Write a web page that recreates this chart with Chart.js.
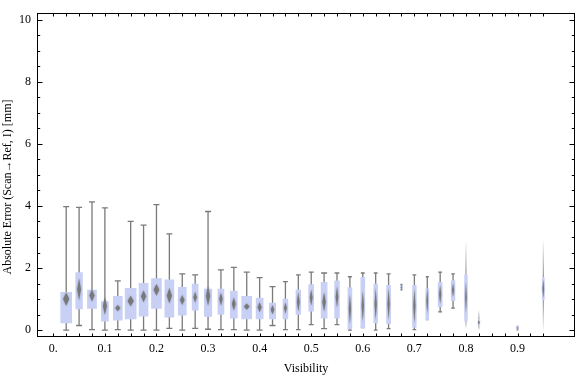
<!DOCTYPE html>
<html><head><meta charset="utf-8">
<script src="https://cdn.jsdelivr.net/npm/chart.js@4.4.1/dist/chart.umd.min.js"></script>
<style>html,body{margin:0;padding:0;background:#fff}canvas{display:block}</style>
</head><body>
<canvas id="c" width="576" height="377"></canvas>
<script>
const visibility   = [0.025,0.05,0.075,0.1,0.125,0.15,0.175,0.2,0.225,0.25,0.275,0.3,0.325,0.35,0.375,0.4,0.425,0.45,0.475,0.5,0.525,0.55,0.575,0.6,0.625,0.65,0.675,0.7,0.725,0.75,0.775,0.8,0.825,0.9,0.95];
const whiskerLow   = [0,0.15,0.02,0,0.02,0,0,0,0.06,0,0.06,0.03,0.02,0.02,0,0,0.15,0.02,0.02,0.18,0.05,0.18,0,0.08,0,0.05,1.3,0.02,0.34,0.59,0.71,0.05,0,0.01,0];
const quartile1    = [0.23,0.68,0.70,0.29,0.32,0.36,0.45,0.70,0.42,0.48,0.64,0.44,0.51,0.39,0.36,0.36,0.36,0.36,0.51,0.61,0.39,0.39,0.04,0.08,0.23,0.20,1.35,0.10,0.34,0.76,0.95,0.29,0.15,0.03,0.97];
const medians      = [1.00,1.31,1.12,0.78,0.71,0.94,1.09,1.30,1.11,0.97,1.06,1.10,1.00,0.84,0.76,0.74,0.66,0.71,0.91,1.05,0.91,1.07,0.68,0.78,0.84,0.84,1.38,0.78,0.94,1.15,1.29,1.05,0.25,0.07,1.33];
const quartile3    = [1.22,1.85,1.29,0.92,1.09,1.35,1.51,1.66,1.62,1.38,1.48,1.32,1.32,1.26,1.09,1.03,0.87,1.00,1.29,1.47,1.54,1.59,1.37,1.70,1.48,1.44,1.42,1.44,1.33,1.54,1.60,1.79,0.34,0.12,1.69];
const whiskerHigh  = [3.98,3.95,4.13,3.94,1.59,3.50,3.38,4.04,3.10,1.81,1.78,3.82,1.94,2.02,1.87,1.69,1.40,1.56,1.78,1.87,1.84,1.84,1.72,1.84,1.84,1.81,1.47,1.78,1.72,1.87,1.81,2.83,0.63,0.12,2.88];
const medianSpread = [0.21,0.35,0.20,0.29,0.10,0.17,0.19,0.19,0.25,0.16,0.18,0.31,0.21,0.21,0.10,0.16,0.15,0.18,0.31,0.26,0.31,0.34,0.47,0.50,0.52,0.50,0.03,0.55,0.40,0.30,0.22,0.50,0.08,0.03,0.30];
const sampleShare  = [1.0,0.61,0.82,0.64,0.82,1.0,0.82,0.91,0.82,0.73,0.55,0.68,0.55,0.64,0.91,0.64,0.57,0.45,0.43,0.45,0.55,0.43,0.36,0.36,0.34,0.36,0.18,0.34,0.27,0.36,0.34,0.25,0.09,0.18,0.18];
const sparseCategories = [0.8, 0.825, 0.95];
const xTickLabels = ['0.','0.1','0.2','0.3','0.4','0.5','0.6','0.7','0.8','0.9'];
const yTickLabels = ['0','2','4','6','8','10'];

const MAXW = 11;
const BOX = 'rgb(200,208,245)';
const WHISK = '#7a7a7a';
const FONT = '"Liberation Serif", "Times New Roman", serif';

const datasets = visibility.map((v, i) => ({
  type: 'bar',
  label: String(v),
  data: [{x: v, y: [quartile1[i], quartile3[i]]}],
  barThickness: sampleShare[i] * MAXW,
  backgroundColor: BOX,
  borderWidth: 0,
  grouped: false
}));

const decor = {
  id: 'decor',
  beforeDatasetsDraw(chart) {
    const ctx = chart.ctx, xs = chart.scales.x, ys = chart.scales.y;
    ctx.save();
    visibility.forEach((v, i) => {
      const x = xs.getPixelForValue(v);
      const w = sampleShare[i] * MAXW;
      const cap = Math.min(6, Math.max(2, w));
      const yl = ys.getPixelForValue(whiskerLow[i]);
      const yh = ys.getPixelForValue(whiskerHigh[i]);
      const y1 = ys.getPixelForValue(quartile1[i]);
      const y3 = ys.getPixelForValue(quartile3[i]);
      if (sparseCategories.includes(v)) {
        ctx.lineWidth = 1.2;
        let g = ctx.createLinearGradient(0, yh, 0, y3);
        g.addColorStop(0, 'rgba(122,122,122,0.05)');
        g.addColorStop(1, 'rgba(122,122,122,0.8)');
        ctx.strokeStyle = g;
        ctx.beginPath(); ctx.moveTo(x, yh); ctx.lineTo(x, y3); ctx.stroke();
        g = ctx.createLinearGradient(0, y1, 0, yl);
        g.addColorStop(0, 'rgba(122,122,122,0.8)');
        g.addColorStop(1, 'rgba(122,122,122,0.05)');
        ctx.strokeStyle = g;
        ctx.beginPath(); ctx.moveTo(x, y1); ctx.lineTo(x, yl); ctx.stroke();
      } else {
        ctx.strokeStyle = WHISK;
        ctx.lineWidth = 1.3;
        ctx.beginPath();
        ctx.moveTo(x, yh); ctx.lineTo(x, yl);
        ctx.moveTo(x - cap / 2, yh); ctx.lineTo(x + cap / 2, yh);
        ctx.moveTo(x - cap / 2, yl); ctx.lineTo(x + cap / 2, yl);
        ctx.stroke();
      }
    });
    ctx.restore();
  },
  afterDatasetsDraw(chart) {
    const ctx = chart.ctx, xs = chart.scales.x, ys = chart.scales.y;
    ctx.save();
    ctx.fillStyle = 'rgba(118,118,118,0.95)';
    ctx.shadowColor = 'rgba(118,118,118,0.7)';
    ctx.shadowBlur = 2;
    visibility.forEach((v, i) => {
      const x = xs.getPixelForValue(v);
      const w = sampleShare[i] * MAXW;
      const dw = Math.max(0.8, w * 0.28);
      const ym = ys.getPixelForValue(medians[i]);
      const dh = Math.abs(ys.getPixelForValue(medians[i] + medianSpread[i]) - ym);
      ctx.beginPath();
      ctx.moveTo(x, ym - dh); ctx.lineTo(x + dw, ym); ctx.lineTo(x, ym + dh); ctx.lineTo(x - dw, ym);
      ctx.closePath(); ctx.fill();
    });
    ctx.restore();
  },
  afterDraw(chart) {
    const ctx = chart.ctx, xs = chart.scales.x, ys = chart.scales.y, a = chart.chartArea;
    ctx.save();
    ctx.strokeStyle = '#000';
    ctx.lineWidth = 1;
    const L = Math.round(a.left) + 0.5, R = Math.round(a.right) - 0.5, T = Math.round(a.top) + 0.5, B = Math.round(a.bottom) - 0.5;
    ctx.strokeRect(L, T, R - L, B - T);
    ctx.beginPath();
    for (let k = 0; k <= 38; k++) {
      const px = Math.round(xs.getPixelForValue(k * 0.025)) + 0.5;
      ctx.moveTo(px, B); ctx.lineTo(px, B - 3);
      ctx.moveTo(px, T); ctx.lineTo(px, T + 3);
    }
    for (let k = 0; k <= 20; k++) {
      const py = Math.round(ys.getPixelForValue(k * 0.5)) + 0.5;
      const len = (k % 4 === 0) ? 5 : 2.7;
      ctx.moveTo(L, py); ctx.lineTo(L + len, py);
      ctx.moveTo(R, py); ctx.lineTo(R - len, py);
    }
    ctx.stroke();
    ctx.fillStyle = '#000';
    ctx.font = '12px ' + FONT;
    ctx.textAlign = 'center';
    ctx.textBaseline = 'middle';
    ctx.fillText('Visibility', (a.left + a.right) / 2, 369);
    ctx.translate(8, 187);
    ctx.rotate(-Math.PI / 2);
    ctx.fillText('Absolute Error (Scan\u2192Ref, I) [mm]', 0, 0);
    ctx.restore();
  }
};

new Chart(document.getElementById('c'), {
  type: 'bar',
  data: { datasets },
  options: {
    responsive: false,
    animation: false,
    devicePixelRatio: 1,
    layout: { padding: { top: 5, right: 1, left: 0, bottom: 0 } },
    plugins: { legend: { display: false }, tooltip: { enabled: false } },
    scales: {
      x: {
        type: 'linear', min: -0.0316, max: 1.0114, offset: false,
        grid: { display: false, drawTicks: false, offset: false },
        border: { display: false },
        afterBuildTicks: s => { s.ticks = xTickLabels.map(l => ({ value: parseFloat(l) })); },
        afterFit: s => { s.height = 40; },
        ticks: { autoSkip: false, maxRotation: 0, padding: 5, color: '#000',
          font: { family: FONT, size: 12 },
          callback: (val, idx) => xTickLabels[idx] }
      },
      y: {
        type: 'linear', min: -0.22, max: 10.204,
        grid: { display: false, drawTicks: false },
        border: { display: false },
        afterBuildTicks: s => { s.ticks = yTickLabels.map(l => ({ value: Number(l) })); },
        afterFit: s => { s.width = 37; },
        ticks: { autoSkip: false, padding: 6, color: '#000',
          font: { family: FONT, size: 12 },
          callback: (val, idx) => yTickLabels[idx] }
      }
    }
  },
  plugins: [decor]
});
</script>
</body></html>
